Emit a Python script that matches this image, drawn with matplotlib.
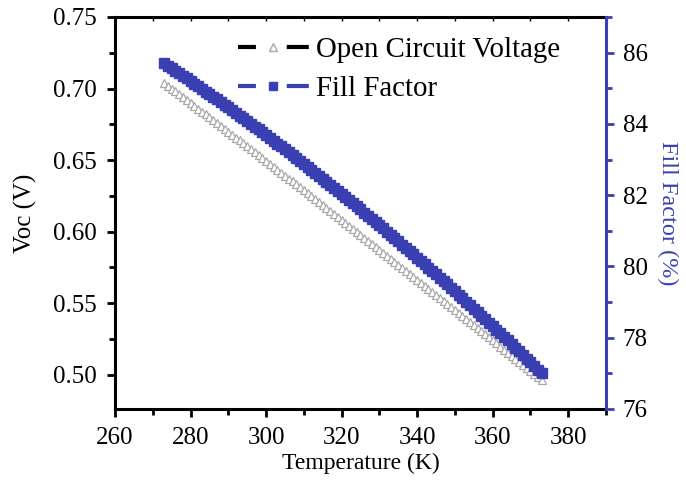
import matplotlib.pyplot as plt
from matplotlib.lines import Line2D
from matplotlib.ticker import MultipleLocator

plt.rcParams['font.family'] = ['Liberation Serif', 'DejaVu Serif']

blue = '#3a40b2'

# temperature (K), 1 K steps
temp = list(range(273, 374))

# open circuit voltage (V)
voc = [0.7040, 0.7020, 0.7000, 0.6980, 0.6960, 0.6940, 0.6919, 0.6899, 0.6879, 0.6859,
       0.6839, 0.6819, 0.6799, 0.6778, 0.6758, 0.6738, 0.6718, 0.6697, 0.6677, 0.6657,
       0.6637, 0.6617, 0.6596, 0.6576, 0.6555, 0.6535, 0.6515, 0.6494, 0.6474, 0.6453,
       0.6433, 0.6412, 0.6392, 0.6371, 0.6351, 0.6330, 0.6309, 0.6289, 0.6268, 0.6248,
       0.6227, 0.6206, 0.6186, 0.6165, 0.6144, 0.6124, 0.6103, 0.6082, 0.6061, 0.6041,
       0.6020, 0.5999, 0.5978, 0.5957, 0.5936, 0.5916, 0.5895, 0.5874, 0.5853, 0.5832,
       0.5811, 0.5790, 0.5769, 0.5748, 0.5727, 0.5706, 0.5685, 0.5664, 0.5643, 0.5622,
       0.5601, 0.5580, 0.5558, 0.5537, 0.5516, 0.5495, 0.5474, 0.5452, 0.5431, 0.5410,
       0.5389, 0.5368, 0.5346, 0.5325, 0.5303, 0.5282, 0.5261, 0.5239, 0.5218, 0.5196,
       0.5175, 0.5153, 0.5132, 0.5110, 0.5089, 0.5067, 0.5046, 0.5024, 0.5003, 0.4981,
       0.4960]

# fill factor (%)
ff = [85.700, 85.630, 85.559, 85.488, 85.417, 85.346, 85.274, 85.202, 85.129, 85.056,
      84.983, 84.909, 84.836, 84.761, 84.687, 84.612, 84.536, 84.461, 84.385, 84.309,
      84.232, 84.155, 84.078, 84.000, 83.922, 83.844, 83.765, 83.686, 83.607, 83.527,
      83.447, 83.367, 83.286, 83.205, 83.124, 83.042, 82.960, 82.877, 82.795, 82.711,
      82.628, 82.544, 82.460, 82.376, 82.291, 82.206, 82.120, 82.034, 81.948, 81.862,
      81.775, 81.688, 81.600, 81.512, 81.424, 81.336, 81.247, 81.158, 81.068, 80.978,
      80.888, 80.797, 80.707, 80.615, 80.524, 80.432, 80.339, 80.247, 80.154, 80.061,
      79.967, 79.873, 79.779, 79.684, 79.589, 79.494, 79.398, 79.302, 79.206, 79.109,
      79.012, 78.915, 78.817, 78.719, 78.621, 78.522, 78.423, 78.323, 78.224, 78.123,
      78.023, 77.922, 77.821, 77.720, 77.618, 77.516, 77.413, 77.311, 77.207, 77.104,
      77.000]

fig = plt.figure(figsize=(6.86, 4.88), dpi=100)
ax = fig.add_axes([0.1676, 0.1619, 0.7158, 0.8033])
ax2 = ax.twinx()

ax.plot(temp, voc, ls='none', marker='^', ms=6, mfc='white', mec='#a8a8a8', mew=0.9)
ax2.plot(temp, ff, ls='none', marker='s', ms=6.5, mfc=blue, mec=blue)

ax.set_xlim(260, 390)
ax.set_ylim(0.476, 0.75)
ax2.set_ylim(76, 87)

ax.xaxis.set_major_locator(MultipleLocator(20))
ax.xaxis.set_minor_locator(MultipleLocator(10))
ax.yaxis.set_major_locator(MultipleLocator(0.05))
ax.yaxis.set_minor_locator(MultipleLocator(0.025))
ax.yaxis.set_major_formatter(plt.FormatStrFormatter('%.2f'))
ax2.yaxis.set_major_locator(MultipleLocator(2))
ax2.yaxis.set_minor_locator(MultipleLocator(1))

for sp in ['left', 'bottom', 'top']:
    ax.spines[sp].set_linewidth(2.2)
ax.spines['right'].set_visible(False)
for sp in ['left', 'bottom', 'top']:
    ax2.spines[sp].set_visible(False)
ax2.spines['right'].set_linewidth(2.2)
ax2.spines['right'].set_color(blue)

ax.tick_params(which='major', direction='out', length=6, width=2, labelsize=18, pad=7)
ax.tick_params(which='minor', direction='out', length=4, width=2)
ax2.tick_params(which='major', direction='out', length=6, width=2, color=blue, labelsize=18, pad=6)
ax2.tick_params(which='minor', direction='out', length=4, width=2, color=blue)

# top spine ticks point inward and are small
secx = ax.secondary_xaxis('top')
secx.xaxis.set_major_locator(MultipleLocator(10))
secx.tick_params(direction='in', length=3, width=1, labeltop=False)
secx.spines['top'].set_visible(False)

ax.set_xlabel('Temperature (K)', fontsize=17, labelpad=3)
ax.set_ylabel('Voc (V)', fontsize=18, labelpad=12)
ax2.set_ylabel('Fill Factor (%)', fontsize=17.5, color=blue, rotation=270, labelpad=22)

handles = [
    Line2D([], [], color='black', lw=3, dashes=(4.3, 7.4, 5.3, 100), marker='^', ms=6,
           mfc='white', mec='#a8a8a8'),
    Line2D([], [], color=blue, lw=3, dashes=(4.3, 7.4, 5.3, 100), marker='s', ms=6,
           mfc=blue, mec=blue),
]
ax.legend(handles, ['Open Circuit Voltage', 'Fill Factor'], loc='upper left',
          bbox_to_anchor=(0.326, 0.955), bbox_transform=fig.transFigure,
          frameon=False, fontsize=20.8, handlelength=2.45, handletextpad=0.25,
          labelspacing=0.45, borderpad=0)

fig.savefig('out.png', dpi=100)
